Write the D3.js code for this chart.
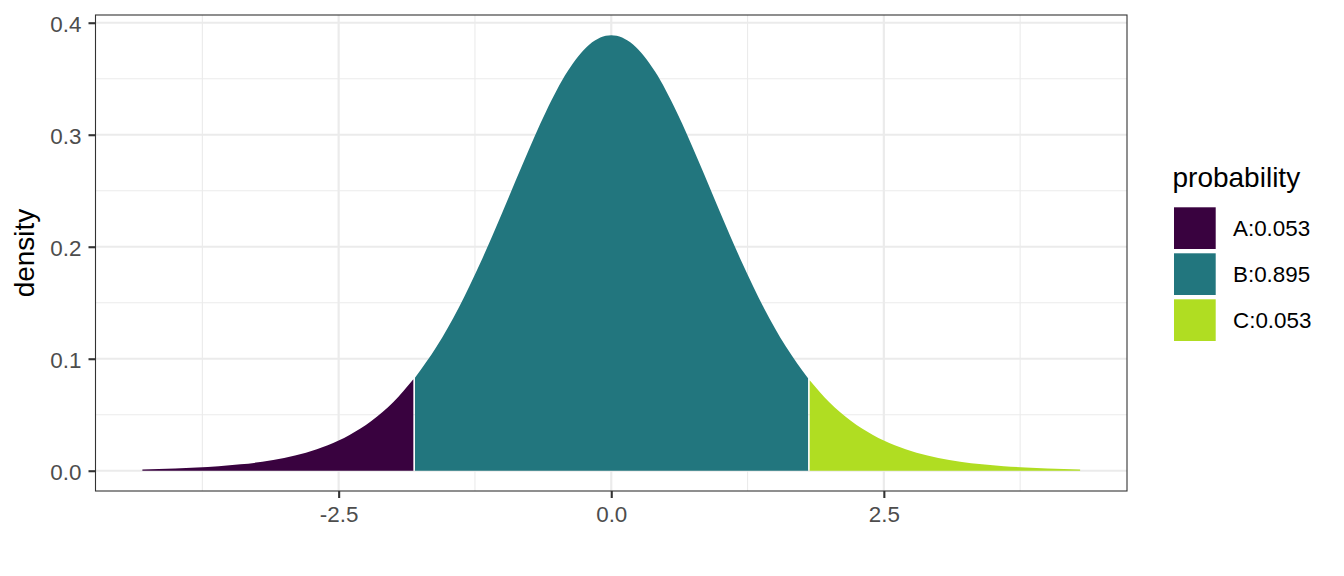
<!DOCTYPE html>
<html>
<head>
<meta charset="utf-8">
<script src="https://cdn.jsdelivr.net/npm/d3@7"></script>
<style>
  html, body { margin: 0; padding: 0; background: #fff; }
  svg { display: block; font-family: "Liberation Sans", Arial, Helvetica, sans-serif; }
</style>
</head>
<body>
<svg id="chart" width="1344" height="576"></svg>
<script>
// ---- data ----
const categories = ["A:0.053", "B:0.895", "C:0.053"];
const fillColors = ["#39023F", "#22767E", "#B0DD22"];

const xA = [-4.3, -4.0, -3.8, -3.6, -3.4, -3.2, -3.0, -2.8, -2.6, -2.4, -2.2, -2.0, -1.815];
const dA = [0.0012, 0.0020, 0.0029, 0.0040, 0.0057, 0.0080, 0.0114, 0.0161, 0.0227, 0.0319, 0.0444, 0.0611, 0.0817];

const xB = [-1.8, -1.6, -1.4, -1.2, -1.0, -0.8, -0.6, -0.4, -0.2, 0, 0.2, 0.4, 0.6, 0.8, 1.0, 1.2, 1.4, 1.6, 1.805];
const dB = [0.0831, 0.1111, 0.1454, 0.1857, 0.2304, 0.2766, 0.3203, 0.3566, 0.3806, 0.3888, 0.3806, 0.3566, 0.3203, 0.2766, 0.2304, 0.1857, 0.1454, 0.1111, 0.0826];

const xC = [1.82, 2.0, 2.2, 2.4, 2.6, 2.8, 3.0, 3.2, 3.4, 3.6, 3.8, 4.0, 4.3];
const dC = [0.0808, 0.0611, 0.0444, 0.0319, 0.0227, 0.0161, 0.0114, 0.0080, 0.0057, 0.0040, 0.0029, 0.0020, 0.0012];

const xTicks = [-2.5, 0.0, 2.5];
const xMinor = [-3.75, -1.25, 1.25, 3.75];
const yTicks = [0.0, 0.1, 0.2, 0.3, 0.4];
const yMinor = [0.05, 0.15, 0.25, 0.35];
const yTitle = "density";
const legendTitle = "probability";

// ---- layout ----
const svg = d3.select("#chart");
const P = { left: 95.5, right: 1127, top: 15, bottom: 491 };

const x = d3.scaleLinear().domain([-4.73, 4.73]).range([P.left, P.right]);
const y = d3.scaleLinear().domain([-0.0181, 0.4069]).range([P.bottom, P.top]);

// grid
const grid = svg.append("g");
grid.selectAll(".xmin").data(xMinor).join("line")
  .attr("x1", d => x(d)).attr("x2", d => x(d)).attr("y1", P.top).attr("y2", P.bottom)
  .attr("stroke", "#EBEBEB").attr("stroke-width", 1.1);
grid.selectAll(".ymin").data(yMinor).join("line")
  .attr("x1", P.left).attr("x2", P.right).attr("y1", d => y(d)).attr("y2", d => y(d))
  .attr("stroke", "#EBEBEB").attr("stroke-width", 1.1);
grid.selectAll(".xmaj").data(xTicks).join("line")
  .attr("x1", d => x(d)).attr("x2", d => x(d)).attr("y1", P.top).attr("y2", P.bottom)
  .attr("stroke", "#EBEBEB").attr("stroke-width", 2.2);
grid.selectAll(".ymaj").data(yTicks).join("line")
  .attr("x1", P.left).attr("x2", P.right).attr("y1", d => y(d)).attr("y2", d => y(d))
  .attr("stroke", "#EBEBEB").attr("stroke-width", 2.2);

// areas
const area = d3.area().x(d => x(d[0])).y0(y(0)).y1(d => y(d[1])).curve(d3.curveMonotoneX);
const regions = [
  d3.zip(xA, dA),
  d3.zip(xB, dB),
  d3.zip(xC, dC)
];
svg.append("g").selectAll("path").data(regions).join("path")
  .attr("d", area)
  .attr("fill", (d, i) => fillColors[i]);

// panel border
svg.append("rect")
  .attr("x", P.left).attr("y", P.top)
  .attr("width", P.right - P.left).attr("height", P.bottom - P.top)
  .attr("fill", "none").attr("stroke", "#333333").attr("stroke-width", 1.1);

// axes
const fmt = d => d.toFixed(1);
const xAxis = svg.append("g").attr("transform", `translate(0,${P.bottom})`)
  .call(d3.axisBottom(x).tickValues(xTicks).tickFormat(fmt).tickSize(7).tickPadding(6));
const yAxis = svg.append("g").attr("transform", `translate(${P.left},0)`)
  .call(d3.axisLeft(y).tickValues(yTicks).tickFormat(fmt).tickSize(7).tickPadding(7));
[xAxis, yAxis].forEach(g => {
  g.select(".domain").remove();
  g.selectAll(".tick line").attr("stroke", "#333333").attr("stroke-width", 2.1);
  g.selectAll(".tick text").attr("fill", "#4D4D4D").style("font-size", "22.4px")
    .style("font-family", "'Liberation Sans', Arial, sans-serif");
});
xAxis.selectAll(".tick text").attr("dy", null).attr("y", 31);
yAxis.selectAll(".tick text").attr("dy", null).attr("y", 8.3);

// y title
svg.append("text")
  .attr("transform", `translate(34,${(P.top + P.bottom) / 2}) rotate(-90)`)
  .attr("text-anchor", "middle")
  .style("font-size", "28px").attr("fill", "#000")
  .text(yTitle);

// legend
const leg = svg.append("g");
leg.append("text").attr("x", 1172.5).attr("y", 187)
  .style("font-size", "28px").attr("fill", "#000").text(legendTitle);
const keyY0 = 207.3, keyStep = 46, keySize = 41.7;
categories.forEach((c, i) => {
  leg.append("rect").attr("x", 1174).attr("y", keyY0 + i * keyStep)
    .attr("width", keySize).attr("height", keySize).attr("fill", fillColors[i]);
  leg.append("text").attr("x", 1233).attr("y", keyY0 + i * keyStep + keySize / 2 + 8.2)
    .style("font-size", "22.4px").attr("fill", "#000").text(c);
});
</script>
</body>
</html>
